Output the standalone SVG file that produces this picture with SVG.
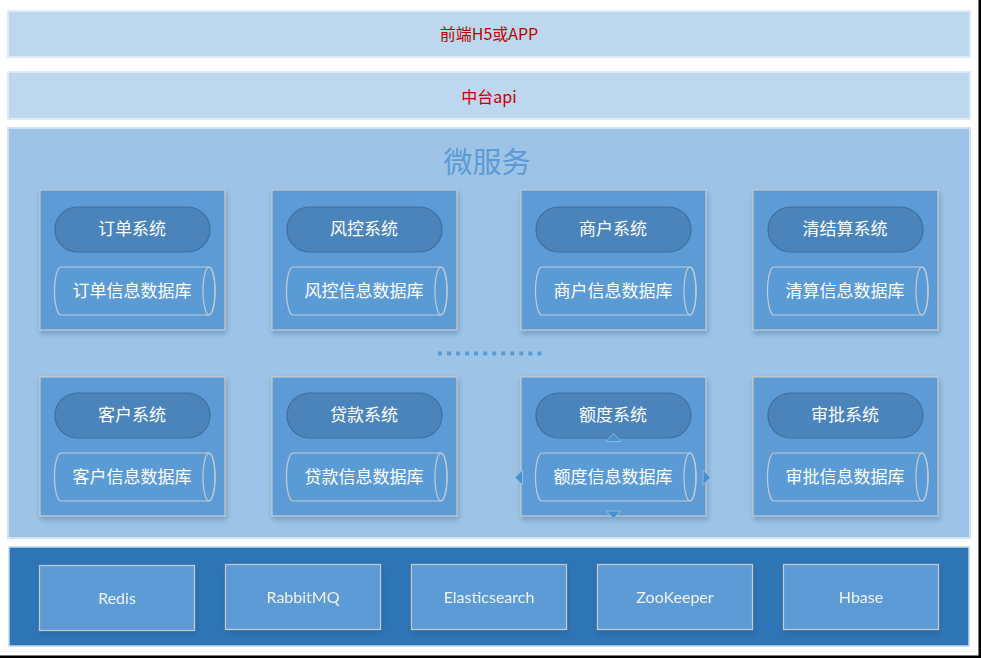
<svg xmlns="http://www.w3.org/2000/svg" width="981" height="658" viewBox="0 0 981 658">
<defs>
<filter id="sh" x="-10%" y="-10%" width="125%" height="130%">
<feDropShadow dx="1" dy="3" stdDeviation="2.5" flood-color="#1f4e79" flood-opacity="0.35"/>
</filter>
<style>
.bar{fill:#bdd7ee;stroke:#deebf7;stroke-width:2}
.bartxt{font-family:"Noto Sans CJK SC","Liberation Sans",sans-serif;font-size:16px;fill:#c00000;text-anchor:middle;dominant-baseline:central}
.area{fill:#9dc3e6;stroke:#cfe1f2;stroke-width:2}
.title{font-family:"Noto Sans CJK SC",sans-serif;font-size:29px;fill:#5b9bd5;text-anchor:middle;dominant-baseline:central}
.card{fill:#5b9bd5;stroke:#c9c9c9;stroke-width:1.2}
.pill{fill:#4a84bb;stroke:#3e6f9e;stroke-width:1.2}
.cyl{fill:#5b9bd5;stroke:#c3cad3;stroke-width:1.2}
.cyle{fill:none;stroke:#c3cad3;stroke-width:1.2}
.ntxt{font-family:"Noto Sans CJK SC",sans-serif;font-size:17px;fill:#ffffff;text-anchor:middle;dominant-baseline:central}
.band{fill:#2e75b6;stroke:#bdd7ee;stroke-width:1.5}
.box{fill:#5b9bd5;stroke:#c9c9c9;stroke-width:1.2}
.btxt{font-family:Lato,"Liberation Sans",sans-serif;font-size:16px;fill:#f2f2f2;text-anchor:middle;dominant-baseline:central}
.hdl{fill:#4a90d0;stroke:#9dc3e6;stroke-width:0.8}
</style>
</defs>
<rect x="0" y="0" width="981" height="658" fill="#ffffff"/>
<g id="frontend">
<rect class="bar" x="8" y="11" width="962" height="46"/>
<text class="bartxt" x="489" y="33">前端H5或APP</text>
</g>
<g id="middle-api">
<rect class="bar" x="8" y="72" width="962" height="47"/>
<text class="bartxt" x="489" y="96">中台api</text>
</g>
<g id="microservices">
<rect class="area" x="8" y="128" width="962" height="410"/>
<text class="title" x="487" y="160">微服务</text>
</g>

<g id="order" filter="url(#sh)">
<rect class="card" x="40" y="190" width="185" height="140"/>
</g>
<g id="order-sys"><rect class="pill" x="55" y="207" width="155" height="45" rx="22.5"/><text class="ntxt" x="132" y="227.5">订单系统</text></g>
<g id="order-db"><path class="cyl" d="M61,267 L209,267 A6,24 0 0 1 209,315 L61,315 A6.5,24 0 0 1 61,267 Z"/><ellipse class="cyle" cx="209" cy="291" rx="6" ry="24"/><text class="ntxt" x="132" y="289.5">订单信息数据库</text></g>

<g id="risk" filter="url(#sh)">
<rect class="card" x="272" y="190" width="185" height="140"/>
</g>
<g id="risk-sys"><rect class="pill" x="287" y="207" width="155" height="45" rx="22.5"/><text class="ntxt" x="364" y="227.5">风控系统</text></g>
<g id="risk-db"><path class="cyl" d="M293,267 L441,267 A6,24 0 0 1 441,315 L293,315 A6.5,24 0 0 1 293,267 Z"/><ellipse class="cyle" cx="441" cy="291" rx="6" ry="24"/><text class="ntxt" x="364" y="289.5">风控信息数据库</text></g>

<g id="merchant" filter="url(#sh)">
<rect class="card" x="521" y="190" width="185" height="140"/>
</g>
<g id="merchant-sys"><rect class="pill" x="536" y="207" width="155" height="45" rx="22.5"/><text class="ntxt" x="613" y="227.5">商户系统</text></g>
<g id="merchant-db"><path class="cyl" d="M542,267 L690,267 A6,24 0 0 1 690,315 L542,315 A6.5,24 0 0 1 542,267 Z"/><ellipse class="cyle" cx="690" cy="291" rx="6" ry="24"/><text class="ntxt" x="613" y="289.5">商户信息数据库</text></g>

<g id="settle" filter="url(#sh)">
<rect class="card" x="753" y="190" width="185" height="140"/>
</g>
<g id="settle-sys"><rect class="pill" x="768" y="207" width="155" height="45" rx="22.5"/><text class="ntxt" x="845" y="227.5">清结算系统</text></g>
<g id="settle-db"><path class="cyl" d="M774,267 L922,267 A6,24 0 0 1 922,315 L774,315 A6.5,24 0 0 1 774,267 Z"/><ellipse class="cyle" cx="922" cy="291" rx="6" ry="24"/><text class="ntxt" x="845" y="289.5">清算信息数据库</text></g>

<g id="connectors">
<line x1="438" y1="353.5" x2="542" y2="353.5" stroke="#5b9bd5" stroke-width="4" stroke-dasharray="4 5.03"/>
</g>

<g id="customer" filter="url(#sh)">
<rect class="card" x="40" y="377" width="185" height="139"/>
</g>
<g id="customer-sys"><rect class="pill" x="55" y="393" width="155" height="45" rx="22.5"/><text class="ntxt" x="132" y="413.5">客户系统</text></g>
<g id="customer-db"><path class="cyl" d="M61,453 L209,453 A6,24 0 0 1 209,501 L61,501 A6.5,24 0 0 1 61,453 Z"/><ellipse class="cyle" cx="209" cy="477" rx="6" ry="24"/><text class="ntxt" x="132" y="475.5">客户信息数据库</text></g>

<g id="loan" filter="url(#sh)">
<rect class="card" x="272" y="377" width="185" height="139"/>
</g>
<g id="loan-sys"><rect class="pill" x="287" y="393" width="155" height="45" rx="22.5"/><text class="ntxt" x="364" y="413.5">贷款系统</text></g>
<g id="loan-db"><path class="cyl" d="M293,453 L441,453 A6,24 0 0 1 441,501 L293,501 A6.5,24 0 0 1 293,453 Z"/><ellipse class="cyle" cx="441" cy="477" rx="6" ry="24"/><text class="ntxt" x="364" y="475.5">贷款信息数据库</text></g>

<g id="quota" filter="url(#sh)">
<rect class="card" x="521" y="377" width="185" height="139"/>
</g>
<g id="quota-sys"><rect class="pill" x="536" y="393" width="155" height="45" rx="22.5"/><text class="ntxt" x="613" y="413.5">额度系统</text></g>
<g id="quota-db"><path class="cyl" d="M542,453 L690,453 A6,24 0 0 1 690,501 L542,501 A6.5,24 0 0 1 542,453 Z"/><ellipse class="cyle" cx="690" cy="477" rx="6" ry="24"/><text class="ntxt" x="613" y="475.5">额度信息数据库</text></g>
<g id="quota-handles">
<path class="hdl" d="M606,441.5 L613.5,433.5 L621,441.5 Z"/>
<path class="hdl" d="M606,511 L613.5,518.5 L621,511 Z"/>
<path class="hdl" d="M522.5,470 L515,477.5 L522.5,485 Z"/>
<path class="hdl" d="M703,470 L710.5,477.5 L703,485 Z"/>
</g>

<g id="approval" filter="url(#sh)">
<rect class="card" x="753" y="377" width="185" height="139"/>
</g>
<g id="approval-sys"><rect class="pill" x="768" y="393" width="155" height="45" rx="22.5"/><text class="ntxt" x="845" y="413.5">审批系统</text></g>
<g id="approval-db"><path class="cyl" d="M774,453 L922,453 A6,24 0 0 1 922,501 L774,501 A6.5,24 0 0 1 774,453 Z"/><ellipse class="cyle" cx="922" cy="477" rx="6" ry="24"/><text class="ntxt" x="845" y="475.5">审批信息数据库</text></g>

<g id="infra">
<rect class="band" x="9" y="547" width="960" height="99"/>
</g>
<g id="redis" filter="url(#sh)"><rect class="box" x="39.5" y="565.5" width="155" height="65"/><text class="btxt" x="117" y="597">Redis</text></g>
<g id="rabbitmq" filter="url(#sh)"><rect class="box" x="225.5" y="564.5" width="155" height="65"/><text class="btxt" x="303" y="596">RabbitMQ</text></g>
<g id="elasticsearch" filter="url(#sh)"><rect class="box" x="411.5" y="564.5" width="155" height="65"/><text class="btxt" x="489" y="596">Elasticsearch</text></g>
<g id="zookeeper" filter="url(#sh)"><rect class="box" x="597.5" y="564.5" width="155" height="65"/><text class="btxt" x="675" y="596">ZooKeeper</text></g>
<g id="hbase" filter="url(#sh)"><rect class="box" x="783.5" y="564.5" width="155" height="65"/><text class="btxt" x="861" y="596">Hbase</text></g>

<rect x="978.5" y="0" width="2.5" height="658" fill="#000000"/>
<rect x="0" y="655.5" width="981" height="2.5" fill="#000000"/>
</svg>
